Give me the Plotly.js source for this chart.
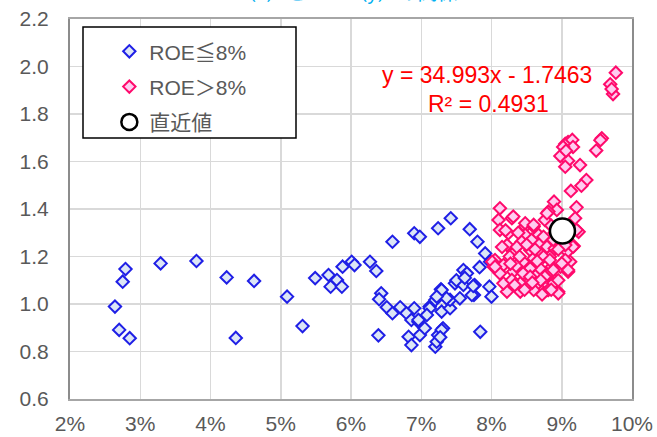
<!DOCTYPE html>
<html>
<head>
<meta charset="utf-8">
<script src="https://cdn.plot.ly/plotly-3.0.1.min.js"></script>
<style>html,body{margin:0;padding:0;background:#fff;}#chart{width:657px;height:437px;}</style>
</head>
<body>
<div id="chart"></div>
<script>
// ROE (%) and PBR for ROE <= 8%
const roeLow = [2.79,2.75,2.64,2.70,2.85,3.29,3.80,4.23,4.62,4.36,5.09,5.31,5.49,5.68,5.71,5.80,5.87,5.88,6.01,6.05,6.27,6.36,6.59,6.43,6.40,6.39,6.51,6.59,6.70,6.79,6.90,6.86,6.96,6.82,6.86,6.98,7.05,6.90,6.98,7.24,7.42,7.12,7.20,7.28,7.29,7.24,7.31,7.20,7.22,7.41,7.41,7.48,7.55,7.60,7.60,7.65,7.75,7.76,7.69,7.80,7.91,7.83,7.97,8.00,7.84,7.98,7.72,7.29,7.36,7.22,7.12,6.96,7.29,7.27,7.08,7.74,7.50,7.62];
const pbrLow = [1.147,1.094,0.989,0.891,0.856,1.171,1.181,1.112,1.097,0.857,1.031,0.907,1.109,1.122,1.073,1.101,1.073,1.157,1.178,1.164,1.178,1.139,1.262,1.045,1.020,0.868,0.986,0.961,0.986,0.961,0.982,0.933,0.925,0.862,0.827,0.869,0.898,1.298,1.283,1.319,1.361,0.989,1.017,1.062,0.968,0.869,0.898,0.820,0.841,0.982,1.017,1.087,1.024,1.080,1.143,1.129,1.038,1.080,1.315,1.262,1.213,1.155,1.073,1.031,0.883,1.178,1.038,1.059,1.024,1.031,0.982,0.933,0.891,0.860,0.954,1.076,1.100,1.110];
// ROE (%) and PBR for ROE > 8%
const roeHigh = [9.77,9.69,9.73,9.71,9.57,9.49,9.55,9.05,9.09,9.15,9.16,9.02,8.98,9.09,9.05,9.26,9.35,9.28,9.13,9.06,9.21,9.19,8.89,8.93,8.81,8.76,9.24,9.17,9.08,9.12,9.09,8.98,8.90,8.95,8.79,8.76,8.66,8.64,8.52,8.41,8.31,8.22,8.17,8.12,8.10,8.29,8.31,8.12,8.24,8.48,8.48,8.60,8.67,8.48,8.43,8.22,8.31,8.55,8.69,8.79,8.74,8.05,8.03,8.17,8.31,8.45,8.60,8.71,8.83,8.86,8.69,8.55,8.45,8.12,8.29,8.55,8.79,8.41,8.60,9.05,8.79,9.21,9.16,9.05,8.90,8.74,8.83,9.00,9.09,8.88,8.76,8.88,8.95,8.81,8.01,8.05,8.60,8.36,8.38,8.57,8.62,8.65,8.35,8.26,8.20,8.40,8.50,8.70,8.90,8.88,8.95,8.85,8.15,8.27,8.33,8.47,8.58,8.72,8.85,8.95];
const pbrHigh = [1.974,1.925,1.884,1.905,1.698,1.646,1.690,1.674,1.682,1.691,1.661,1.661,1.623,1.603,1.578,1.585,1.522,1.498,1.476,1.645,1.407,1.361,1.431,1.396,1.389,1.354,1.304,1.244,1.220,1.178,1.136,1.157,1.101,1.052,1.059,1.094,1.087,1.122,1.087,1.087,1.136,1.052,1.087,1.403,1.354,1.361,1.368,1.312,1.298,1.326,1.340,1.326,1.291,1.291,1.262,1.248,1.213,1.227,1.255,1.241,1.283,1.185,1.157,1.164,1.185,1.178,1.192,1.206,1.199,1.157,1.150,1.150,1.129,1.129,1.101,1.115,1.122,1.052,1.059,1.185,1.382,1.312,1.241,1.248,1.234,1.199,1.185,1.171,1.143,1.143,1.115,1.087,1.045,1.059,1.178,1.157,1.333,1.240,1.300,1.270,1.230,1.180,1.160,1.200,1.310,1.200,1.250,1.100,1.300,1.270,1.230,1.330,1.240,1.170,1.080,1.060,1.090,1.040,1.060,1.100];
// latest value
const roeNow = [9.01];
const pbrNow = [1.307];

const names = ['ROE≦8%', 'ROE＞8%', '直近値'];
const xTicks = [2,3,4,5,6,7,8,9,10];
const xTickText = ['2%','3%','4%','5%','6%','7%','8%','9%','10%'];
const yTicks = [0.6,0.8,1.0,1.2,1.4,1.6,1.8,2.0,2.2];
const eqText = 'y = 34.993x - 1.7463';
const r2Text = 'R² = 0.4931';
const titleText = 'ROE（x）とPBR（y）の関係';

const FONT = 'Liberation Sans, Arial, Noto Sans CJK JP, sans-serif';

const traces = [
  {x: roeLow, y: pbrLow, name: names[0], type: 'scatter', mode: 'markers', legendgroup: 'a',
   marker: {symbol: 'diamond', size: 9.5, color: '#dce6f6', line: {color: '#1f1fe6', width: 2}}},
  {x: roeHigh, y: pbrHigh, name: names[1], type: 'scatter', mode: 'markers', legendgroup: 'b',
   marker: {symbol: 'diamond', size: 9.5, color: '#ffccf0', line: {color: '#ff0a6c', width: 2}}},
  {x: roeNow, y: pbrNow, name: names[2], type: 'scatter', mode: 'markers', legendgroup: 'c',
   marker: {symbol: 'circle', size: 25, color: '#ffffff', line: {color: '#000000', width: 2.5}}}
];

const layout = {
  width: 657, height: 437,
  margin: {l: 70, r: 25, t: 19, b: 38},
  paper_bgcolor: '#ffffff', plot_bgcolor: '#ffffff',
  showlegend: true,
  legend: {
    x: 0.07, y: 0.968, xanchor: 'left', yanchor: 'top',
    bgcolor: 'rgba(0,0,0,0)', borderwidth: 0,
    traceorder: 'grouped', tracegroupgap: 5,
    font: {family: FONT, size: 21, color: '#595959'}
  },
  xaxis: {
    range: [2, 10], tickvals: xTicks, ticktext: xTickText,
    showgrid: true, gridcolor: '#d9d9d9', gridwidth: 1.5,
    showline: true, mirror: true, linecolor: '#a6a6a6', linewidth: 2,
    zeroline: false, ticks: '', ticklabelstandoff: 5,
    tickfont: {family: FONT, size: 21, color: '#595959'}
  },
  yaxis: {
    range: [0.6, 2.2], tickvals: yTicks, tickformat: '.1f',
    showgrid: true, gridcolor: '#d9d9d9', gridwidth: 1.5,
    showline: true, mirror: true, linecolor: '#8c8c8c', linewidth: 2,
    zeroline: false, ticks: '', ticklabelstandoff: 15,
    tickfont: {family: FONT, size: 21, color: '#595959'}
  },
  shapes: [
    {type: 'rect', xref: 'paper', yref: 'paper', layer: 'above',
     x0: (83-70)/562, x1: (296-70)/562, y0: 1-(138-19)/380, y1: 1-(27-19)/380,
     fillcolor: '#ffffff', line: {color: '#000000', width: 1.5}}
  ],
  annotations: [
    {xref: 'paper', yref: 'paper', x: (487-70)/562, y: 1-(75-19)/380, text: eqText, showarrow: false,
     xanchor: 'center', yanchor: 'middle', font: {family: FONT, size: 23, color: '#ff0000'}},
    {xref: 'paper', yref: 'paper', x: (488-70)/562, y: 1-(104-19)/380, text: r2Text, showarrow: false,
     xanchor: 'center', yanchor: 'middle', font: {family: FONT, size: 23, color: '#ff0000'}},
    {xref: 'paper', yref: 'paper', x: (325-70)/562, y: 1+(19-6)/380, text: titleText, showarrow: false,
     xanchor: 'center', yanchor: 'bottom', font: {family: FONT, size: 20, color: '#00b0f0'}}
  ]
};

Plotly.newPlot('chart', traces, layout, {displayModeBar: false, staticPlot: true});
</script>
</body>
</html>
